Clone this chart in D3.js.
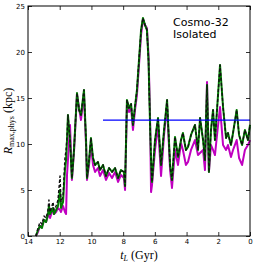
<!DOCTYPE html>
<html>
<head>
<meta charset="utf-8">
<script src="https://cdn.jsdelivr.net/npm/d3@7"></script>
<style>
  body { margin: 0; background: #fff; }
  .tick text { font-family: "DejaVu Sans", sans-serif; font-size: 7px; }
</style>
</head>
<body>
<div id="chart"></div>
<script>
// lookback time of each snapshot (Gyr)
const tLook = [13.50,13.37,13.24,13.12,12.99,12.86,12.74,12.68,12.61,12.49,12.42,12.36,12.23,12.11,11.98,11.92,11.79,11.67,11.60,11.54,11.48,11.35,11.23,11.10,10.91,10.78,10.66,10.47,10.34,10.28,10.15,10.03,9.90,9.77,9.59,9.46,9.27,9.08,8.89,8.70,8.51,8.32,8.14,7.95,7.88,7.76,7.63,7.50,7.38,7.25,7.13,7.00,6.87,6.75,6.62,6.50,6.40,6.31,6.24,6.18,5.99,5.80,5.61,5.42,5.23,5.04,4.92,4.73,4.54,4.35,4.23,4.04,3.91,3.72,3.47,3.28,3.15,2.96,2.84,2.71,2.59,2.46,2.33,2.21,2.08,1.89,1.70,1.51,1.39,1.20,1.07,0.84,0.69,0.50,0.32,0.13,0.00];

const rMagenta = [0,0.43,1.09,1.09,1.74,1.52,2.17,2.39,1.96,2.61,3.04,2.39,2.61,3.04,2.83,2.61,3.26,2.61,2.39,6.63,8.26,12.07,6.09,9.13,15.33,13.91,12.61,15.33,9.89,6.09,7.72,9.89,7.72,6.96,7.39,6.52,7.17,6.09,6.85,6.30,6.96,5.87,6.63,6.30,5.00,14.24,13.48,13.91,11.52,13.70,15.33,18.59,21.85,23.48,22.93,22.61,19.67,13.70,4.78,5.54,9.35,12.07,6.52,10.98,14.24,7.17,5.22,9.35,7.72,10.11,9.35,7.72,8.04,9.35,10.43,8.80,9.02,9.35,7.17,16.74,6.96,9.89,9.35,8.80,10.98,14.02,9.89,9.35,9.89,8.59,9.35,10.43,8.48,7.72,9.35,9.89,10.43];

const rGreen = [0,0.65,1.09,0.87,1.74,1.52,2.39,3.26,2.39,2.83,3.04,2.39,2.83,3.26,5.00,3.04,3.70,7.17,8.26,10.43,13.15,10.43,6.30,9.35,15.54,13.70,13.15,15.87,10.43,6.30,8.26,10.65,8.48,7.72,8.04,7.17,7.72,6.52,7.39,6.96,7.39,6.30,7.17,6.96,5.43,14.78,13.91,14.35,12.07,14.13,15.87,19.13,22.39,23.70,22.93,22.39,19.13,12.61,8.26,5.87,10.43,12.83,7.72,11.52,14.78,7.72,6.09,10.76,8.59,10.43,11.20,9.35,9.67,10.98,12.07,9.35,12.83,10.43,8.26,16.41,6.96,11.52,13.70,10.43,13.70,18.59,14.02,10.65,11.20,9.89,11.20,13.70,10.98,9.89,11.52,10.43,12.07];

const rBlack = [0,0.87,1.52,1.30,2.17,1.96,2.83,3.91,2.61,3.26,3.70,2.83,3.26,3.91,6.52,3.70,4.35,8.48,9.35,10.76,13.15,10.43,6.30,9.35,15.54,13.70,13.15,15.87,10.43,6.30,8.26,10.65,8.48,7.72,8.04,7.17,7.72,6.52,7.39,6.96,7.39,6.30,7.17,6.96,5.43,14.78,13.91,14.35,12.07,14.13,15.87,19.13,22.39,23.70,22.93,22.39,19.13,12.61,8.26,5.87,10.43,12.83,7.72,11.52,14.78,7.72,6.09,10.76,8.59,10.43,11.20,9.35,9.67,10.98,12.07,9.35,12.83,10.43,8.26,16.41,6.96,11.52,13.70,10.43,13.70,18.59,14.02,10.65,11.20,9.89,11.20,13.70,10.98,9.89,11.52,10.43,12.07];

// horizontal reference level
const refLevel = { tStart: 9.27, tEnd: 0, r: 12.6 };

const xTicks = [14, 12, 10, 8, 6, 4, 2, 0];
const yTicks = [0, 5, 10, 15, 20, 25];
const labels = ["Cosmo-32", "Isolated"];

const margin = { top: 6, right: 6, bottom: 26, left: 28 },
      width = 256 - margin.left - margin.right,
      height = 262 - margin.top - margin.bottom;

const svg = d3.select("#chart")
  .append("svg")
  .attr("width", 256)
  .attr("height", 262)
  .append("g")
  .attr("transform", `translate(${margin.left},${margin.top})`);

const x = d3.scaleLinear().domain([14, 0]).range([0, width]);
const y = d3.scaleLinear().domain([0, 25]).range([height, 0]);

const line = d3.line()
  .x(d => x(d[0]))
  .y(d => y(d[1]));

const series = [
  { vals: rMagenta, color: "#c000c0", w: 2, dash: null },
  { vals: rGreen, color: "#007a00", w: 2, dash: null },
  { vals: rBlack, color: "#111", w: 1.4, dash: "3,2" }
];

series.forEach(s => {
  svg.append("path")
    .datum(tLook.map((t, i) => [t, s.vals[i]]))
    .attr("fill", "none")
    .attr("stroke", s.color)
    .attr("stroke-width", s.w)
    .attr("stroke-dasharray", s.dash)
    .attr("stroke-linejoin", "round")
    .attr("d", line);
});

svg.append("line")
  .attr("x1", x(refLevel.tStart)).attr("x2", x(refLevel.tEnd))
  .attr("y1", y(refLevel.r)).attr("y2", y(refLevel.r))
  .attr("stroke", "#0000ff")
  .attr("stroke-width", 1.3);

// axes with inward ticks on all four sides
const styleAxis = g => {
  g.select(".domain").remove();
  g.selectAll(".tick line").attr("stroke", "#000").attr("stroke-width", 0.8);
};

svg.append("g")
  .attr("transform", `translate(0,${height})`)
  .call(d3.axisBottom(x).tickValues(xTicks).tickSizeInner(-4).tickSizeOuter(0).tickPadding(3))
  .call(styleAxis);

svg.append("g")
  .call(d3.axisTop(x).tickValues(xTicks).tickSizeInner(-4).tickSizeOuter(0).tickFormat(""))
  .call(styleAxis);

svg.append("g")
  .call(d3.axisLeft(y).tickValues(yTicks).tickSizeInner(-4).tickSizeOuter(0).tickPadding(3))
  .call(styleAxis);

svg.append("g")
  .attr("transform", `translate(${width},0)`)
  .call(d3.axisRight(y).tickValues(yTicks).tickSizeInner(-4).tickSizeOuter(0).tickFormat(""))
  .call(styleAxis);

svg.append("rect")
  .attr("width", width).attr("height", height)
  .attr("fill", "none").attr("stroke", "#000").attr("stroke-width", 1);

labels.forEach((txt, i) => {
  svg.append("text")
    .attr("x", 145).attr("y", 20 + i * 12)
    .attr("font-family", "DejaVu Sans, sans-serif")
    .attr("font-size", 11)
    .text(txt);
});

// axis titles
const xt = svg.append("text")
  .attr("x", width / 2).attr("y", height + 23)
  .attr("text-anchor", "middle")
  .attr("font-family", "Liberation Serif, serif")
  .attr("font-size", 12);
xt.append("tspan").attr("font-style", "italic").text("t");
xt.append("tspan").attr("font-style", "italic").attr("font-size", 8).attr("dy", 2).text("L");
xt.append("tspan").attr("dy", -2).text(" (Gyr)");

const yt = svg.append("text")
  .attr("transform", `translate(-16,${height / 2}) rotate(-90)`)
  .attr("text-anchor", "middle")
  .attr("font-family", "Liberation Serif, serif")
  .attr("font-size", 12);
yt.append("tspan").attr("font-style", "italic").text("R");
yt.append("tspan").attr("font-size", 8).attr("dy", 2).text("max,phys");
yt.append("tspan").attr("dy", -2).text(" (kpc)");
</script>
</body>
</html>
